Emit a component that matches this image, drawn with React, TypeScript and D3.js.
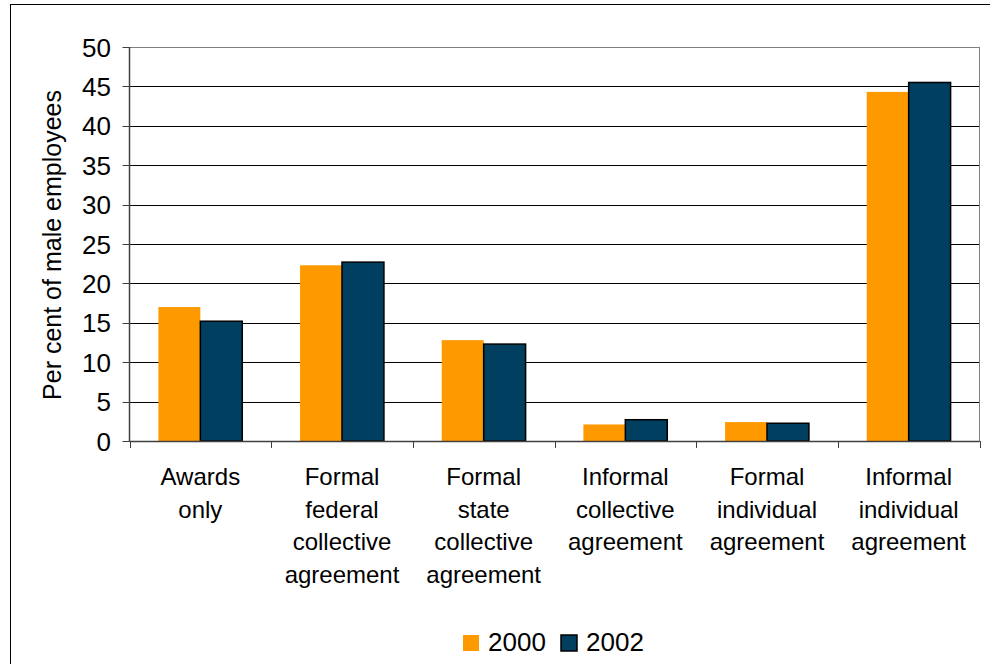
import React from "react";
import * as d3 from "d3";

const categories: string[][] = [
  ["Awards", "only"],
  ["Formal", "federal", "collective", "agreement"],
  ["Formal", "state", "collective", "agreement"],
  ["Informal", "collective", "agreement"],
  ["Formal", "individual", "agreement"],
  ["Informal", "individual", "agreement"],
];
const series2000 = [17.0, 22.3, 12.8, 2.1, 2.4, 44.3];
const series2002 = [15.2, 22.7, 12.3, 2.7, 2.25, 45.5];
const yTicks = [0, 5, 10, 15, 20, 25, 30, 35, 40, 45, 50];
const seriesNames = ["2000", "2002"];
const colors = ["#FF9900", "#003F5F"];

const W = 990;
const H = 664;
const left = 129.5;
const right = 979.5;
const top = 47;
const bottom = 441;

export default function App() {
  const y = d3.scaleLinear().domain([0, 50]).range([bottom, top]);
  const x = d3
    .scaleBand<number>()
    .domain(d3.range(categories.length))
    .range([left, right]);
  const bw = x.bandwidth() * 0.296;
  const font = "'Liberation Sans', Arial, sans-serif";
  const data = [series2000, series2002];

  return (
    <svg
      width={W}
      height={H}
      style={{ position: "absolute", left: 0, top: 0, background: "#fff" }}
      fontFamily={font}
    >
      <rect x={10.5} y={4.5} width={1000} height={700} fill="#fff" stroke="#000" strokeWidth={1} />
      {/* gridlines */}
      {yTicks.map((t) => (
        <line
          key={t}
          x1={left}
          x2={right}
          y1={Math.round(y(t)) + 0.5}
          y2={Math.round(y(t)) + 0.5}
          stroke={t === 50 ? "#808080" : "#000"}
          strokeWidth={1}
        />
      ))}
      <line x1={right} x2={right} y1={top} y2={bottom} stroke="#808080" strokeWidth={1} />
      {/* bars */}
      {data.map((s, si) =>
        s.map((v, i) => {
          const cx = (x(i) as number) + x.bandwidth() / 2;
          const bx = cx - bw + si * bw;
          return (
            <rect
              key={`${si}-${i}`}
              x={bx}
              y={y(v)}
              width={bw}
              height={bottom - y(v)}
              fill={colors[si]}
              stroke={si === 1 ? "#000" : "none"}
              strokeWidth={si === 1 ? 1.5 : 0}
            />
          );
        })
      )}
      {/* y axis */}
      <line x1={left} x2={left} y1={top} y2={bottom} stroke="#404040" strokeWidth={1.5} />
      {yTicks.map((t) => (
        <g key={t}>
          <line
            x1={left - 7}
            x2={left}
            y1={Math.round(y(t)) + 0.5}
            y2={Math.round(y(t)) + 0.5}
            stroke="#404040"
          />
          <text x={111} y={y(t) + 9.5} textAnchor="end" fontSize={26} fill="#000">
            {t}
          </text>
        </g>
      ))}
      {/* x axis */}
      <line x1={left} x2={right} y1={bottom + 0.5} y2={bottom + 0.5} stroke="#404040" strokeWidth={1.5} />
      {d3.range(categories.length + 1).map((i) => {
        const xx = Math.round(left + i * x.step()) + 0.5;
        return <line key={i} x1={xx} x2={xx} y1={bottom} y2={bottom + 7} stroke="#404040" />;
      })}
      {categories.map((lines, i) => {
        const cx = (x(i) as number) + x.bandwidth() / 2;
        return (
          <text key={i} textAnchor="middle" fontSize={24} fill="#000">
            {lines.map((l, j) => (
              <tspan key={j} x={cx} y={485 + j * 32.5}>
                {l}
              </tspan>
            ))}
          </text>
        );
      })}
      {/* y title */}
      <text
        transform={`translate(61,245) rotate(-90)`}
        textAnchor="middle"
        fontSize={25}
        fill="#000"
      >
        Per cent of male employees
      </text>
      {/* legend */}
      {seriesNames.map((n, i) => {
        const lx = 463 + i * 98;
        return (
          <g key={n}>
            <rect
              x={lx}
              y={635}
              width={16}
              height={16}
              fill={colors[i]}
              stroke={i === 1 ? "#000" : "none"}
              strokeWidth={1.5}
            />
            <text x={lx + 25} y={651} fontSize={26} fill="#000">
              {n}
            </text>
          </g>
        );
      })}
    </svg>
  );
}
